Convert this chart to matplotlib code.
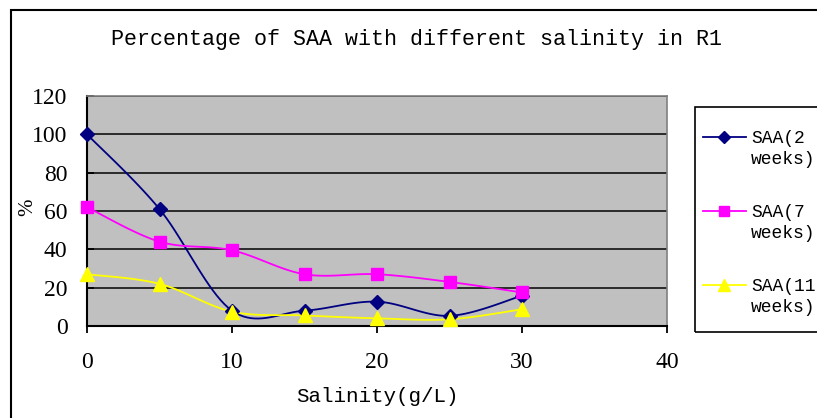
import numpy as np
import matplotlib
matplotlib.use("Agg")
import matplotlib.pyplot as plt
from matplotlib.patches import Rectangle
from matplotlib.lines import Line2D

salinity = [0, 5, 10, 15, 20, 25, 30]
saa_2w = [100, 61, 8, 8, 12.7, 5.3, 15.8]
saa_7w = [62, 44, 39.5, 27, 27, 23, 17.5]
saa_11w = [27, 22, 7.5, 5.5, 4, 3.5, 8.7]
labels = ["SAA(2\nweeks)", "SAA(7\nweeks)", "SAA(11\nweeks)"]
colors = ["#000080", "#FF00FF", "#FFFF00"]
markers = ["D", "s", "^"]
msizes = [7, 8, 10]

mono = "Liberation Mono"
serif = "Liberation Serif"


def smooth(x, y, n=20):
    # excel-like smoothed line (catmull-rom through the points)
    x = np.asarray(x, float)
    y = np.asarray(y, float)
    px = np.concatenate([[x[0]], x, [x[-1]]])
    py = np.concatenate([[y[0]], y, [y[-1]]])
    xs, ys = [], []
    for i in range(1, len(px) - 2):
        p0 = np.array([px[i - 1], py[i - 1]])
        p1 = np.array([px[i], py[i]])
        p2 = np.array([px[i + 1], py[i + 1]])
        p3 = np.array([px[i + 2], py[i + 2]])
        c1 = p1 + (p2 - p0) / 6
        c2 = p2 - (p3 - p1) / 6
        t = np.linspace(0, 1, n)[:, None]
        b = (1 - t) ** 3 * p1 + 3 * (1 - t) ** 2 * t * c1 + 3 * (1 - t) * t ** 2 * c2 + t ** 3 * p2
        xs.extend(b[:, 0])
        ys.extend(b[:, 1])
    return xs, ys


fig = plt.figure(figsize=(8.17, 4.18), dpi=100)
W, H = 817, 418

# outer chart border
fig.patches.append(Rectangle((11 / W, -0.1), 1.2, (H - 10) / H + 0.1, transform=fig.transFigure,
                             fill=False, edgecolor="black", lw=1.5))

ax = fig.add_axes([87 / W, (H - 326) / H, 580 / W, 230 / H])
ax.set_facecolor("#C0C0C0")
ax.set_xlim(0, 40)
ax.set_ylim(0, 120)
ax.set_yticks(range(0, 121, 20))
ax.set_xticks(range(0, 41, 10))
for y in range(20, 121, 20):
    ax.axhline(y, color="#111111", lw=1.2, zorder=1)

for ys, c, m, ms in zip([saa_2w, saa_7w, saa_11w], colors, markers, msizes):
    sx, sy = smooth(salinity, ys)
    ax.plot(sx, sy, color=c, lw=1.3, zorder=3)
    ax.plot(salinity, ys, linestyle="none", marker=m, color=c, markersize=ms, zorder=4, clip_on=False)

for s in ["top", "right"]:
    ax.spines[s].set_color("#808080")
    ax.spines[s].set_linewidth(1.2)
for s in ["left", "bottom"]:
    ax.spines[s].set_color("black")
    ax.spines[s].set_linewidth(1.5)

ax.tick_params(axis="x", direction="out", length=5, width=1.3, pad=14)
ax.tick_params(axis="y", direction="in", length=5, width=1.3, pad=14)
for lab in ax.get_xticklabels() + ax.get_yticklabels():
    lab.set_fontfamily(serif)
    lab.set_fontsize(17)

ax.set_xlabel("Salinity(g/L)", fontfamily=mono, fontsize=15, labelpad=10)
fig.text(28 / W, 1 - 207 / H, "%", rotation=90, fontfamily=serif, fontsize=15,
         ha="center", va="center")

fig.text(417 / W, 1 - 40 / H, "Percentage of SAA with different salinity in R1",
         fontfamily=mono, fontsize=15.6, ha="center", va="center")

# legend drawn by hand, clipped at the right edge like the original
fig.patches.append(Rectangle((695 / W, 1 - 332 / H), 0.3, 225 / H, transform=fig.transFigure,
                             fill=False, edgecolor="black", lw=1.2))
for i, (lab, c, m, ms) in enumerate(zip(labels, colors, markers, msizes)):
    yc = 1 - (137 + i * 74) / H
    fig.lines.append(Line2D([703 / W, 746 / W], [yc, yc], transform=fig.transFigure,
                            color=c, lw=1.3))
    fig.lines.append(Line2D([724 / W], [yc], transform=fig.transFigure, color=c,
                            marker=m, markersize=ms - 1, linestyle="none"))
    fig.text(751 / W, yc + 7 / H, lab, fontfamily=mono, fontsize=13, ha="left", va="top",
             linespacing=1.3)

fig.savefig("out.png", dpi=100)
